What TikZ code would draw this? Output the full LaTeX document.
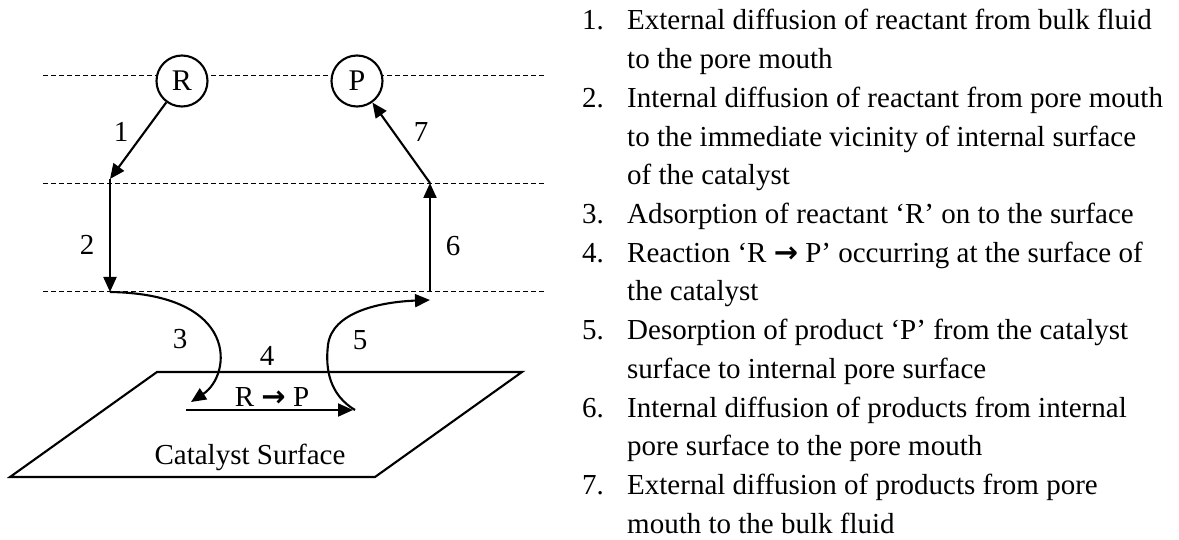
\documentclass[tikz,border=0pt]{standalone}
\usepackage{fontspec}
\setmainfont{Liberation Serif}
\newfontfamily\arwfont{DejaVu Sans}
\usetikzlibrary{arrows.meta}
\begin{document}
\begin{tikzpicture}[x=1pt,y=-1pt,
  dline/.style={dash pattern=on 4.5pt off 3.5pt, line width=1pt},
  arr/.style={line width=2.1pt, -{Triangle[length=15pt,width=13pt]}},
  mol/.style={circle, draw, line width=2.1pt, fill=white, minimum size=51pt, inner sep=0pt, font=\fontsize{30}{34}\selectfont},
  lbl/.style={font=\fontsize{29}{34}\selectfont, inner sep=0pt},
  item/.style={anchor=base west, font=\fontsize{29}{34}\selectfont, inner sep=0pt}]
\useasboundingbox (0,0) rectangle (1179,540);
% dashed levels
\draw[dline] (43,76) -- (546,76);
\draw[dline] (43,184) -- (546,184);
\draw[dline] (43,292) -- (546,292);
% catalyst surface
\draw[line width=2.1pt] (157,372) -- (522,372) -- (375,477) -- (10,477) -- cycle;
\node[lbl] (cs) at (250,457) {Catalyst Surface};
% molecules
\node[mol] (R) at (182,81) {R};
\node[mol] (P) at (357,81) {P};
% points
\coordinate (a1) at (110,179);
\coordinate (a2) at (110,292);
\coordinate (s4) at (186,410);
\coordinate (e4) at (353,410);
\coordinate (t3) at (191,402);
\coordinate (s5) at (355,410);
\coordinate (t5) at (430,300);
\coordinate (b6) at (430,292);
\coordinate (a6) at (430,183);
% arrows
\draw[arr] (R) -- (a1);
\draw[arr] (a1) -- (a2);
\draw[arr] (a2) .. controls (240,294) and (232,375) .. (t3);
\draw[arr] (s4) -- (e4);
\draw[arr] (s5) .. controls (330,395) and (325,370) .. (328,345) .. controls (332,312) and (380,302) .. (t5);
\draw[arr] (b6) -- (a6);
\draw[arr] (a6) -- (P);
% step labels
\node[lbl] (l1) at (121,132) {1};
\node[lbl] (l2) at (87,245) {2};
\node[lbl] (l3) at (180,339) {3};
\node[lbl] (l4) at (267,356) {4};
\node[lbl] (l5) at (360,340) {5};
\node[lbl] (l6) at (453,246) {6};
\node[lbl] (l7) at (421,132) {7};
\node[lbl] (rp) at (272,397) {R {\arwfont\bfseries →} P};
% list
\node[item] (n1) at (582,30) {1.};
\node[item] (t1a) at (627,30) {External diffusion of reactant from bulk fluid};
\node[item] (t1b) at (627,68.7) {to the pore mouth};
\node[item] (n2) at (582,107.4) {2.};
\node[item] (t2a) at (627,107.4) {Internal diffusion of reactant from pore mouth};
\node[item] (t2b) at (627,146.1) {to the immediate vicinity of internal surface};
\node[item] (t2c) at (627,184.8) {of the catalyst};
\node[item] (n3) at (582,223.5) {3.};
\node[item] (t3a) at (627,223.5) {Adsorption of reactant ‘R’ on to the surface};
\node[item] (n4) at (582,262.2) {4.};
\node[item] (t4a) at (627,262.2) {Reaction ‘R {\arwfont\bfseries →} P’ occurring at the surface of};
\node[item] (t4b) at (627,300.9) {the catalyst};
\node[item] (n5) at (582,339.6) {5.};
\node[item] (t5a) at (627,339.6) {Desorption of product ‘P’ from the catalyst};
\node[item] (t5b) at (627,378.3) {surface to internal pore surface};
\node[item] (n6) at (582,417) {6.};
\node[item] (t6a) at (627,417) {Internal diffusion of products from internal};
\node[item] (t6b) at (627,455.7) {pore surface to the pore mouth};
\node[item] (n7) at (582,494.4) {7.};
\node[item] (t7a) at (627,494.4) {External diffusion of products from pore};
\node[item] (t7b) at (627,533.1) {mouth to the bulk fluid};
\end{tikzpicture}
\end{document}
